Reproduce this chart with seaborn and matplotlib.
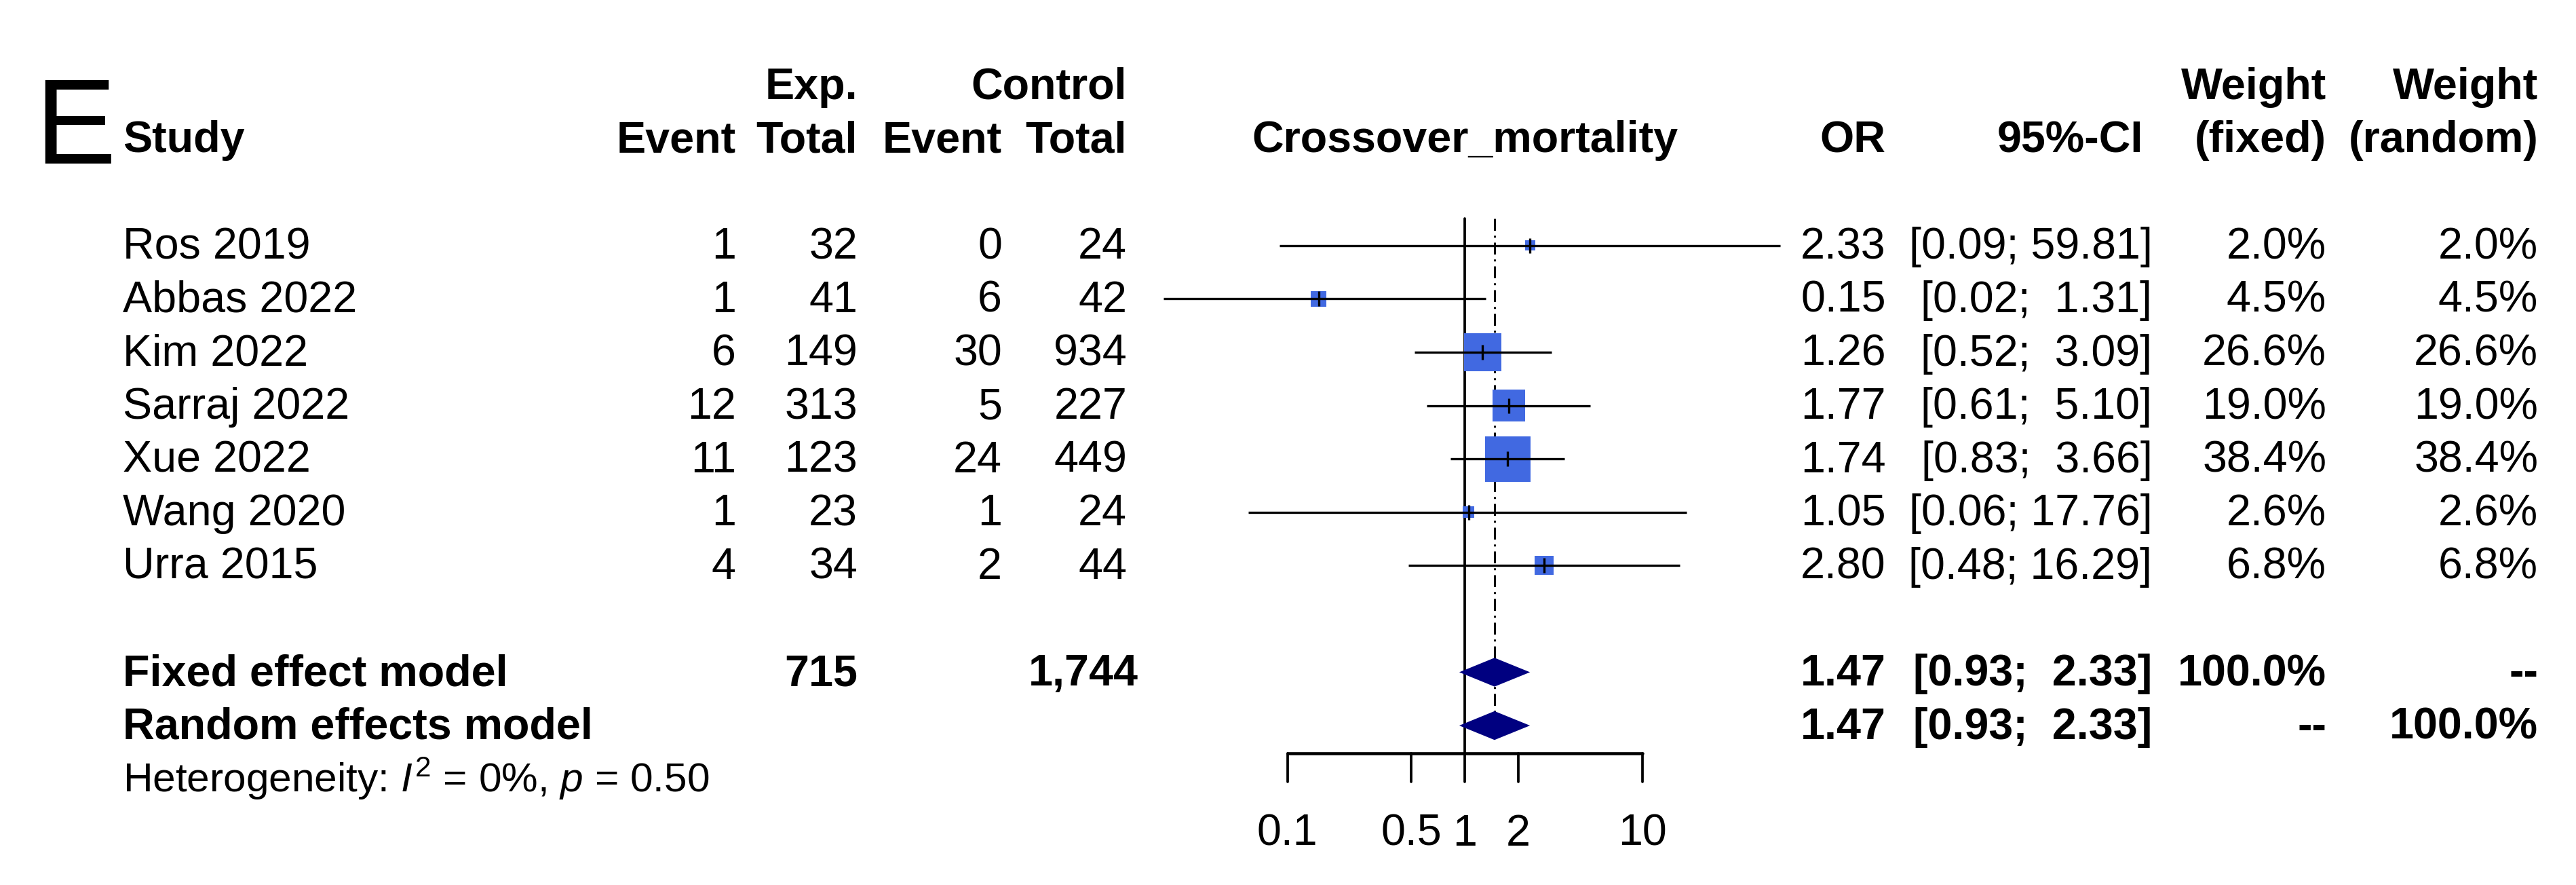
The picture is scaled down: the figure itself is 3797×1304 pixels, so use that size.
import numpy as np
import pandas as pd
import matplotlib
matplotlib.use("Agg")
import matplotlib.pyplot as plt
import seaborn as sns

# ---------------- data ----------------
studies = ["Ros 2019", "Abbas 2022", "Kim 2022", "Sarraj 2022", "Xue 2022", "Wang 2020", "Urra 2015"]
exp_event = [1, 1, 6, 12, 11, 1, 4]
exp_total = [32, 41, 149, 313, 123, 23, 34]
ctl_event = [0, 6, 30, 5, 24, 1, 2]
ctl_total = [24, 42, 934, 227, 449, 24, 44]
or_est = [2.33, 0.15, 1.26, 1.77, 1.74, 1.05, 2.80]
ci_low = [0.09, 0.02, 0.52, 0.61, 0.83, 0.06, 0.48]
ci_high = [59.81, 1.31, 3.09, 5.10, 3.66, 17.76, 16.29]
w_fixed = [2.0, 4.5, 26.6, 19.0, 38.4, 2.6, 6.8]
w_random = [2.0, 4.5, 26.6, 19.0, 38.4, 2.6, 6.8]

model_names = ["Fixed effect model", "Random effects model"]
model_or = [1.47, 1.47]
model_lo = [0.93, 0.93]
model_hi = [2.33, 2.33]
model_wfix = ["100.0%", "--"]
model_wran = ["--", "100.0%"]
total_exp = "715"
total_ctl = "1,744"
heterogeneity = r"Heterogeneity: $I^2$ = 0%, $p$ = 0.50"
outcome_label = "Crossover_mortality"
tick_values = [0.1, 0.5, 1, 2, 10]
tick_labels = ["0.1", "0.5", "1", "2", "10"]

# ---------------- style ----------------
sns.set_theme(style="white")
plt.rcParams["font.family"] = ["Liberation Sans", "DejaVu Sans"]
plt.rcParams["mathtext.fontset"] = "custom"
plt.rcParams["mathtext.rm"] = "Liberation Sans"
plt.rcParams["mathtext.it"] = "Liberation Sans:italic"
plt.rcParams["mathtext.bf"] = "Liberation Sans:bold"

W, H, DPI = 3797, 1304, 300
fig = plt.figure(figsize=(W / DPI, H / DPI), dpi=DPI)
fig.patch.set_facecolor("white")

# row coordinate system (row 0 = first study)
ROW0 = 0.2774
STEP = 0.06027
YTOP = -ROW0 / STEP
YBOT = (1 - ROW0) / STEP

tax = fig.add_axes([0, 0, 1, 1])
tax.set_xlim(0, 1)
tax.set_ylim(YBOT, YTOP)
tax.axis("off")
tax.patch.set_alpha(0)

# forest axes: log x
X01, X10 = 0.4998, 0.6375  # figure fraction of 0.1 and 10
dec = (X10 - X01) / 2
L, R = 0.43, 0.72
xmin = 10 ** (-1 - (X01 - L) / dec)
xmax = 10 ** (1 + (R - X10) / dec)
fax = fig.add_axes([L, 0, R - L, 1])
fax.set_xscale("log")
fax.set_xlim(xmin, xmax)
fax.set_ylim(YBOT, YTOP)
fax.axis("off")
fax.patch.set_alpha(0)

FS = 15.5
BASE = 0.25  # baseline offset below row center

def txt(x, row, s, ha="right", bold=False, size=FS, **kw):
    tax.text(x, row + BASE, s, ha=ha, va="baseline", fontsize=size,
             fontweight="bold" if bold else "normal", color="black", **kw)

# ---------------- header ----------------
tax.text(0.0135, -1.535, "E", ha="left", va="baseline", fontsize=43, color="black")
txt(0.0478, -2, "Study", ha="left", bold=True)
txt(0.3329, -3, "Exp.", bold=True)
txt(0.4375, -3, "Control", bold=True)
txt(0.2857, -2, "Event", bold=True)
txt(0.3329, -2, "Total", bold=True)
txt(0.3890, -2, "Event", bold=True)
txt(0.4375, -2, "Total", bold=True)
txt(0.7321, -2, "OR", bold=True)
txt(0.8320, -2, "95%-CI", bold=True)
txt(0.9031, -3, "Weight", bold=True)
txt(0.9031, -2, "(fixed)", bold=True)
txt(0.9853, -3, "Weight", bold=True)
txt(0.9853, -2, "(random)", bold=True)
fax.text(1.0, -2 + BASE, outcome_label, ha="center", va="baseline",
         fontsize=FS, fontweight="bold", color="black")

# ---------------- study rows ----------------
n = len(studies)
rows = list(range(n))
for i in rows:
    txt(0.0478, i, studies[i], ha="left")
    txt(0.2857, i, f"{exp_event[i]}")
    txt(0.3329, i, f"{exp_total[i]}")
    txt(0.3890, i, f"{ctl_event[i]}")
    txt(0.4375, i, f"{ctl_total[i]}")
    txt(0.7321, i, f"{or_est[i]:.2f}")
    txt(0.8355, i, f"[{ci_low[i]:.2f}; {ci_high[i]:5.2f}]")
    txt(0.9031, i, f"{w_fixed[i]:.1f}%")
    txt(0.9853, i, f"{w_random[i]:.1f}%")

# summary rows
srows = [n + 1, n + 2]
for k, r in enumerate(srows):
    txt(0.0478, r, model_names[k], ha="left", bold=True)
    txt(0.7321, r, f"{model_or[k]:.2f}", bold=True)
    txt(0.8355, r, f"[{model_lo[k]:.2f}; {model_hi[k]:5.2f}]", bold=True)
    txt(0.9031, r, model_wfix[k], bold=True)
    txt(0.9853, r, model_wran[k], bold=True)
txt(0.3329, srows[0], total_exp, bold=True)
txt(0.4420, srows[0], total_ctl, bold=True)
txt(0.0478, n + 3, heterogeneity, ha="left", size=FS - 1.0)

# ---------------- forest ----------------
axis_row = n + 2.52
line_top = -0.5
fax.plot([1, 1], [line_top, axis_row], color="black", lw=0.9, zorder=1)
fax.plot([model_or[0]] * 2, [line_top, srows[1] + 0.27], color="black", lw=0.7,
         linestyle=(0, (6, 2.5, 1, 2.5)), zorder=1)

df = pd.DataFrame({"OR": or_est, "row": rows, "w": w_fixed})
side_max_pt = 67 / DPI * 72
smax = side_max_pt ** 2
sns.scatterplot(data=df, x="OR", y="row", size="w", sizes=(0, smax),
                size_norm=(0, max(w_fixed)), marker="s", color="#4169E1",
                edgecolor="none", linewidth=0, legend=False, ax=fax, zorder=2)
fax.set_xscale("log")
fax.set_xlim(xmin, xmax)
fax.set_ylim(YBOT, YTOP)
fax.axis("off")

fax.hlines(rows, ci_low, ci_high, color="black", lw=0.8, zorder=3)
fax.plot(or_est, rows, linestyle="none", marker="|", markersize=5.5,
         markeredgewidth=0.8, color="black", zorder=4)

# diamonds
for k, r in enumerate(srows):
    h = 0.27
    xs = [model_lo[k], model_or[k], model_hi[k], model_or[k]]
    ys = [r, r - h, r, r + h]
    fax.fill(xs, ys, color="#000080", lw=0, zorder=3)

# x axis
fax.plot([tick_values[0], tick_values[-1]], [axis_row, axis_row], color="black", lw=1.1, zorder=3)
for tv, tl in zip(tick_values, tick_labels):
    fax.plot([tv, tv], [axis_row, axis_row + 0.53], color="black", lw=0.9, zorder=3)
    fax.text(tv, 11.0 + BASE, tl, ha="center", va="baseline", fontsize=FS, color="black")

fig.savefig("out.png", dpi=DPI, facecolor="white")
